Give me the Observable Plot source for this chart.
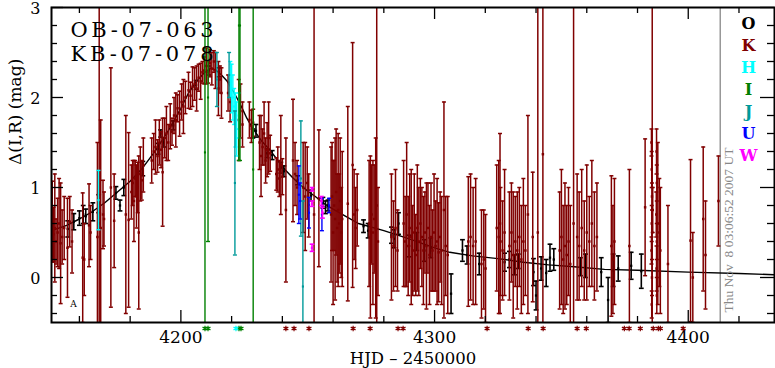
<!DOCTYPE html>
<html><head><meta charset="utf-8">
<script src="https://cdn.jsdelivr.net/npm/d3@7"></script>
<script src="https://cdn.jsdelivr.net/npm/@observablehq/plot@0.6"></script>
<style>html,body{margin:0;padding:0;background:#fff;overflow:hidden}</style>
</head><body><div id="chart"></div>
<script>
// ---------- data (t = HJD-2450000, m = Δ mag, e = error) ----------
const modelCurve = [[4149,0.52],[4155,0.58],[4160,0.65],[4165,0.73],[4170,0.83],[4175,0.95],[4180,1.07],[4185,1.22],[4190,1.41],[4195,1.63],[4200,1.88],[4203,2.05],[4206,2.17],[4209,2.27],[4212,2.33],[4214,2.3],[4216,2.25],[4218,2.19],[4220,2.1],[4222,2.0],[4224,1.89],[4226,1.77],[4228,1.67],[4230,1.59],[4232,1.51],[4235,1.42],[4238,1.31],[4241,1.2],[4244,1.11],[4247,1.03],[4250,0.96],[4253,0.9],[4256,0.83],[4260,0.76],[4265,0.68],[4270,0.6],[4280,0.52],[4290,0.43],[4300,0.33],[4306,0.28],[4315,0.24],[4325,0.21],[4335,0.17],[4345,0.14],[4355,0.12],[4367,0.09],[4380,0.08],[4400,0.06],[4420,0.045],[4434,0.03]];

const obsO = [[4155.4,0.54,0.09],[4157.8,0.62,0.09],[4160,0.66,0.08],[4161.5,0.7,0.1],[4162.5,0.68,0.08],[4165.3,0.73,0.1],[4167.6,0.82,0.1],[4174.4,0.94,0.07],[4176,0.8,0.06],[4177.5,1.0,0.09],[4185,1.21,0.08],[4191,1.43,0.06],[4192,1.6,0.04],[4193.3,1.5,0.05],[4197,1.69,0.05],[4206,2.14,0.05],[4211,2.3,0.05],[4215,2.28,0.05],[4228.4,1.6,0.05],[4229.6,1.63,0.07],[4234,1.38,0.05],[4236,1.36,0.05],[4239.4,1.22,0.06],[4240.6,1.18,0.06],[4246,1.08,0.05],[4251.3,0.91,0.06],[4256,0.83,0.06],[4257,0.78,0.07],[4258,0.8,0.06],[4272,0.57,0.07],[4273.8,0.52,0.08],[4283,0.47,0.09],[4284,0.43,0.1],[4285.8,0.6,0.12],[4290,0.35,0.12],[4293,0.4,0.1],[4296,0.3,0.12],[4298.5,0.33,0.11],[4306.5,-0.18,0.22],[4311,0.3,0.12],[4312.8,0.25,0.1],[4317.6,0.15,0.12],[4327.6,0.17,0.1],[4329.5,0.2,0.09],[4331.5,0.14,0.11],[4333,0.18,0.08],[4339,0.06,0.15],[4340,-0.2,0.16],[4342,0.1,0.13],[4344,0.05,0.15],[4345.5,0.22,0.15],[4347,0.2,0.12],[4357.5,0.12,0.1],[4359.5,0.13,0.13],[4365.7,0.06,0.16],[4368.4,-0.25,0.25],[4370.4,0.08,0.18],[4372.4,0.1,0.14],[4377.5,0.13,0.15],[4381.5,0.07,0.19]];

const obsK = [[4149.3,0.62,0.45],[4149.8,0.48,0.3],[4150.3,0.55,0.6],[4150.8,0.4,0.25],[4151.4,0.5,0.38],[4152.0,0.6,0.5],[4152.6,0.38,0.67],[4153.2,0.45,0.3],[4154.0,0.55,0.35],[4155.3,0.33,0.55],[4156.2,0.62,0.28],[4157.1,0.4,0.35],
[4161.3,0.22,0.72],[4161.9,0.2,0.4],[4163.8,0.58,0.46],[4164.4,0.5,0.3],[4167.1,0.45,1.05],[4167.8,0.6,3.2],[4168.4,0.55,1.2],[4169.3,0.7,0.38],[4169.7,0.65,0.3],[4172.4,1.0,1.33],[4173.7,0.63,0.52],[4178.3,0.7,1.1],[4179.4,0.64,0.97],
[4180.5,0.95,0.3],[4181,1.05,0.25],[4181.5,0.85,0.45],[4182,1.1,0.2],[4182.5,0.9,0.35],[4183,1.0,0.28],[4183.4,0.5,0.85],[4184,1.15,0.3],[4184.6,1.08,0.22],[4185.2,1.25,0.3],
[4188.5,1.3,0.25],[4189.3,1.4,0.2],[4190,1.45,0.3],[4190.8,1.35,0.18],[4191.5,1.5,0.25],[4192.2,1.42,0.2],[4192.8,1.17,0.6],[4193.6,1.55,0.22],[4194.3,1.6,0.3],[4195,1.5,0.2],[4195.8,1.68,0.25],[4196.5,1.62,0.15],
[4197.3,1.8,0.2],[4198,1.75,0.3],[4198.7,1.88,0.15],[4199.5,1.82,0.25],[4200.3,1.95,0.2],[4201,1.9,0.3],[4201.8,2.0,0.18],
[4203,2.08,0.2],[4203.8,2.02,0.15],[4204.6,2.12,0.22],[4205.4,2.15,0.18],[4206.2,2.1,0.25],[4207,2.22,0.15],[4207.8,2.18,0.2],[4208.5,2.28,0.12],
[4209.2,2.3,0.15],[4210,2.35,0.2],[4210.8,2.28,0.12],[4211.5,2.38,0.15],[4212.2,2.32,0.18],[4213,2.4,0.12],[4213.6,2.3,0.2],
[4214.8,2.1,0.3],[4215.4,2.2,0.15],[4216,2.05,0.28],[4218.6,2.05,0.2],[4219.4,1.95,0.22],
[4222.8,1.75,0.45],[4223.5,1.85,0.3],[4224.3,1.7,0.25],[4227,1.75,0.2],[4227.8,1.68,0.18],[4228.5,1.72,0.15],
[4231,1.5,0.3],[4231.6,1.35,0.45],[4232.2,1.45,0.2],[4232.8,1.6,0.35],[4233.4,1.3,0.25],[4234,1.42,0.3],[4234.6,1.55,0.4],[4235.2,1.38,0.2],
[4237.6,1.15,0.18],[4238.2,1.2,0.25],[4238.8,1.1,0.2],[4239.4,1.25,0.55],[4240,1.12,0.2],[4241.4,0.75,0.8],
[4244.2,1.3,0.68],[4245,1.15,0.35],[4245.8,1.0,0.3],[4248.2,1.0,0.5],[4249,0.9,0.6],[4249.8,1.05,0.4],[4250.4,0.8,0.35],[4252.5,0.7,3.2],[4254.4,0.88,0.76],
[4259.2,0.7,0.75],[4259.6,0.9,0.6],[4260,0.5,0.8],[4260.4,0.8,0.5],[4260.8,0.65,0.9],[4261.2,0.95,0.7],[4261.6,0.55,0.6],[4262,0.75,0.85],[4262.4,0.6,0.55],[4262.8,0.85,0.7],[4263.2,0.5,0.5],[4263.6,0.65,0.75],
[4265.8,0.82,1.08],[4267.7,1.25,1.36],[4268.3,0.7,0.5],[4268.9,0.55,0.45],[4269.5,0.75,0.4],
[4274.2,0.6,0.7],[4274.7,0.45,0.9],[4275.2,0.7,0.55],[4275.7,0.5,0.8],[4276.2,0.65,0.6],[4276.8,0.55,1.0],[4277.2,0.8,2.5],[4277.7,0.4,0.6],
[4283,0.45,0.7],[4283.8,0.35,0.5],[4284.6,0.55,0.65],[4285.4,0.3,0.45],
[4287.8,0.6,0.7],[4288.4,0.4,0.5],[4289,0.7,0.8],[4289.6,0.35,0.55],[4290.2,0.55,0.6],[4290.8,0.45,0.75],[4291.4,0.3,0.5],[4292,0.5,0.65],[4292.6,0.25,0.45],[4293.2,0.55,0.7],[4293.8,0.4,0.6],[4294.4,0.6,0.5],
[4295,0.45,0.55],[4295.6,0.3,0.6],[4296.2,0.5,0.45],[4296.8,0.35,0.7],[4297.4,0.55,0.5],[4298,0.25,0.55],[4298.6,0.45,0.6],[4299.2,0.3,0.45],[4299.8,0.5,0.65],[4300.4,0.35,0.5],[4301,0.4,0.7],[4301.6,0.28,0.55],[4302.2,0.45,0.5],[4302.8,0.3,0.6],[4303.7,0.75,1.2],[4304.4,0.35,0.55],[4305.2,0.25,0.65],
[4313.3,0.4,0.72],[4314.2,0.45,0.7],[4315.2,0.35,0.65],[4316.2,0.4,0.7],[4318.5,0.15,0.6],[4319.4,0.2,0.55],[4320.1,0.1,0.6],
[4324.5,0.55,0.7],[4325.3,0.45,0.85],[4325.8,0.6,1.0],[4326,0.4,0.6],[4326.8,0.3,0.55],[4327.6,0.5,0.7],
[4329.5,0.35,0.6],[4330.3,0.5,0.55],[4331,0.25,0.7],[4331.8,0.4,0.5],[4332.6,0.3,0.65],[4333.4,0.45,0.55],[4334.2,0.2,0.6],[4335,0.4,0.7],[4335.8,0.3,0.5],
[4336.8,0.7,1.1],[4338.7,0.45,0.72],[4340.7,0.5,3.5],[4342.7,1.37,3.0],
[4349.3,0.3,0.65],[4350,0.45,0.75],[4350.7,0.2,0.6],[4351.4,0.35,0.7],[4352.1,0.25,0.55],[4352.8,0.4,0.6],[4353.5,0.15,0.65],[4354.8,0.6,3.2],
[4356.2,0.45,0.7],[4357,0.35,0.6],[4358,0.55,0.65],[4359,0.3,0.55],[4360,0.5,0.75],[4361,0.4,0.5],[4362,0.6,0.7],[4363,0.35,0.6],[4364,0.45,0.6],
[4369.7,0.35,0.78],[4370.3,0.2,0.6],[4370.9,0.4,0.7],[4376.8,0.35,0.85],[4383,0.78,0.76],[4385.8,0.5,3.2],
[4385.5,1.5,0.15],[4385.6,1.2,0.2],[4385.7,0.9,0.15],[4385.6,0.6,0.2],[4385.5,0.3,0.15],[4385.7,0.0,0.2],[4385.6,-0.3,0.15],[4386.0,0.75,0.25],
[4387.5,1.4,0.25],[4387.6,1.05,0.2],[4387.4,0.7,0.25],[4387.6,0.4,0.2],[4387.5,0.1,0.25],[4387.6,-0.2,0.2],[4388.0,0.6,0.9],[4388.6,0.5,0.6],[4389,0.3,0.7],
[4392,0.15,0.65],[4400.9,0.41,0.9],[4401.8,0.0,0.5],[4405.9,0.65,0.8],[4406.8,0.25,0.6],[4411.9,0.85,0.5]];

const obsH = [[4167.5,0.86,0.33],[4219.5,2.2,0.2],[4220,2.1,0.27],[4220.5,2.0,0.25],[4221,1.9,0.2],[4221.5,1.75,0.3],[4222,1.65,0.3],[4222.8,1.8,0.25]];
const obsI = [[4209.5,1.39,3.5],[4210.7,2.0,1.6],[4222.9,2.8,1.5],[4223.3,2.8,1.5],[4228.5,1.2,3.2]];
const obsJ = [[4214.2,2.2,0.3],[4219,2.25,0.25],[4221.3,1.05,0.8],[4247.3,1.1,0.64],[4248.1,-0.1,0.95]];
const obsU = [[4246.5,0.92,0.32],[4247,0.85,0.2],[4250.5,0.72,0.17],[4255.6,0.7,0.18],[4258.4,0.8,0.08]];
const obsW = [[4251.7,0.98,0.02],[4251.7,0.82,0.03],[4251.7,0.33,0.04],[4255.4,0.85,0.05],[4255.8,0.72,0.06]];

// points below the plotted range (drawn as asterisks under the axis)
const lowK = [4241.4,4244.6,4250.5,4267.9,4274.6,4285.6,4287.6,4320.7,4336.9,4342.8,4356.2,4359.8,4374.8,4376.7,4381.1,4386.2,4388.2,4389,4398];
const lowI = [4209.5,4210.7,4222.9,4223.7];
const lowH = [4221.7];

const legendNames = ["O","K","H","I","J","U","W"];
const legendColors = ["#000000","#800000","#00ffff","#008000","#009a9a","#0000ff","#ff00ff"];
const titleLines = ["OB-07-063","KB-07-078"];
const xTickLabels = [4200,4300,4400];
const yTickLabels = [0,1,2,3];
const xDomain = [4149,4434];
const yDomain = [-0.5,3];
const nowHJD = 4412.6;
const stamp = "Thu Nov  8 03:06:52 2007 UT";
const notes = [{t:4157.7, m:-0.3, text:"A"}];
const xLabel = "HJD \u2013 2450000";
const yLabel = "\u0394(I,R) (mag)";

// ---------- drawing ----------
const W = 775, H = 368, mL = 51, mR = 1, mT = 7, mB = 46;
const innerW = W - mL - mR, innerH = H - mT - mB;
const serif = "DejaVu Serif";
const col = Object.fromEntries(legendNames.map((n,i)=>[n,legendColors[i]]));

const hcap = {draw(ctx, size){ const r = Math.sqrt(size/Math.PI); ctx.moveTo(-r,0); ctx.lineTo(r,0); }};

function errorSeries(data, color, sw, capR, ptR){
  const rows = data.map(([t,m,e])=>({t, m, lo: m-e, hi: m+e}));
  return [
    Plot.ruleX(rows, {x:"t", y1:"lo", y2:"hi", stroke:color, strokeWidth:sw, clip:true}),
    Plot.dot(rows, {x:"t", y:"lo", symbol:hcap, r:capR, fill:"none", stroke:color, strokeWidth:sw, clip:true}),
    Plot.dot(rows, {x:"t", y:"hi", symbol:hcap, r:capR, fill:"none", stroke:color, strokeWidth:sw, clip:true}),
    Plot.dot(rows, {x:"t", y:"m", symbol:"square", r:ptR, fill:color, stroke:"none", clip:true})
  ];
}

const xMinor = d3.range(4160, 4434, 20).filter(v=>!xTickLabels.includes(v));
const yMinor = d3.range(-4, 30, 2).map(v=>v/10).filter(v=>!yTickLabels.includes(v));

const tickStyle = {stroke:"black", strokeWidth:1.3};

const chart = Plot.plot({
  width: W, height: H,
  marginLeft: mL, marginRight: mR, marginTop: mT, marginBottom: mB,
  style: {fontFamily: serif, fontSize: "17px", background: "white", color: "black"},
  x: {domain: xDomain, label: null},
  y: {domain: yDomain, label: null},
  marks: [
    Plot.axisX(xTickLabels, {tickSize: 0, tickPadding: 8, tickFormat: d => String(d), fontSize: 17, label: null}),
    Plot.axisY(yTickLabels, {tickSize: 0, tickPadding: 11, tickFormat: d => String(d), fontSize: 16, dy: 1.5, label: null}),
    Plot.ruleX([nowHJD], {stroke:"#888888", strokeWidth:1.3}),
    Plot.line(modelCurve, {x: d=>d[0], y: d=>d[1], stroke:"black", strokeWidth:1.4, clip:true}),
    ...errorSeries(obsO, col.O, 1.6, 2.4, 1.3),
    ...errorSeries(obsK, col.K, 1.5, 2.0, 1.4),
    ...errorSeries(obsH, col.H, 1.4, 2.0, 1.2),
    ...errorSeries(obsI, col.I, 1.4, 2.0, 1.2),
    ...errorSeries(obsJ, col.J, 1.4, 2.0, 1.2),
    ...errorSeries(obsU, col.U, 1.4, 2.0, 1.2),
    ...errorSeries(obsW, col.W, 1.6, 2.4, 1.4),
    // asterisks for points below range
    Plot.dot(lowK, {x: d=>d, frameAnchor:"bottom", dy:6, symbol:"asterisk", r:2.6, stroke:col.K, strokeWidth:1.2}),
    Plot.dot(lowI, {x: d=>d, frameAnchor:"bottom", dy:6, symbol:"asterisk", r:2.6, stroke:col.I, strokeWidth:1.2}),
    Plot.dot(lowH, {x: d=>d, frameAnchor:"bottom", dy:6, symbol:"asterisk", r:2.6, stroke:col.H, strokeWidth:1.2}),
    // inward ticks
    Plot.ruleX(xTickLabels, {x: d=>d, insetTop: innerH-12, ...tickStyle}),
    Plot.ruleX(xTickLabels, {x: d=>d, insetBottom: innerH-12, ...tickStyle}),
    Plot.ruleX(xMinor, {x: d=>d, insetTop: innerH-6, ...tickStyle}),
    Plot.ruleX(xMinor, {x: d=>d, insetBottom: innerH-6, ...tickStyle}),
    Plot.ruleY(yTickLabels, {y: d=>d, insetRight: innerW-12, ...tickStyle}),
    Plot.ruleY(yTickLabels, {y: d=>d, insetLeft: innerW-14, ...tickStyle}),
    Plot.ruleY(yMinor, {y: d=>d, insetRight: innerW-6, ...tickStyle}),
    Plot.ruleY(yMinor, {y: d=>d, insetLeft: innerW-7, ...tickStyle}),
    Plot.frame({stroke:"black", strokeWidth:2}),
    // texts
    Plot.text(notes, {x:"t", y:"m", text:"text", fontSize:9, fill:"black"}),
    Plot.text([titleLines[0]], {frameAnchor:"top-left", dx:19, dy:23, textAnchor:"start", lineAnchor:"middle", fontSize:21, fill:"black"}),
    Plot.text([titleLines[1]], {frameAnchor:"top-left", dx:19, dy:47, textAnchor:"start", lineAnchor:"middle", fontSize:21, fill:"black"}),
    ...legendNames.map((n,i)=>Plot.text([n], {frameAnchor:"top-right", dx:-26, dy:16+22*i, textAnchor:"middle", lineAnchor:"middle", fontSize:16, fontWeight:"bold", fill:legendColors[i]})),
    Plot.text([stamp], {x: [nowHJD], frameAnchor:"bottom", rotate:-90, textAnchor:"start", lineAnchor:"middle", dx:8, dy:-10, fontSize:13.5, fontFamily:"Liberation Serif", fill:"#888888"}),
    Plot.text([xLabel], {frameAnchor:"bottom", dy:36, lineAnchor:"middle", fontSize:16.5, fill:"black"}),
    Plot.text([yLabel], {frameAnchor:"left", dx:-36, rotate:-90, lineAnchor:"middle", fontSize:17, fill:"black"})
  ]
});
document.getElementById("chart").appendChild(chart);
d3.select(chart).selectAll("text")
  .filter(function(){ return titleLines.includes(this.textContent); })
  .attr("textLength", 143).attr("lengthAdjust", "spacing");
d3.select(chart).selectAll("text")
  .filter(function(){ return this.textContent === stamp; })
  .style("white-space", "pre");
</script>
</body></html>
